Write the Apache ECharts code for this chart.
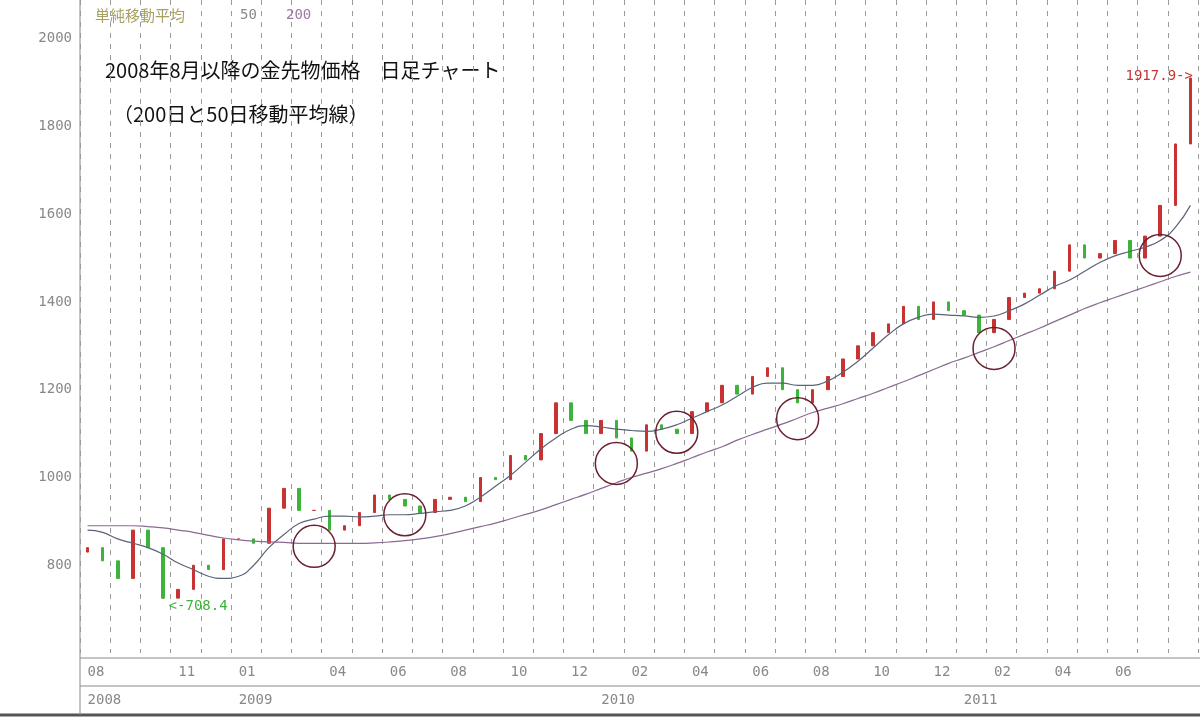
<!DOCTYPE html><html><head><meta charset="utf-8">
<script src="https://cdn.jsdelivr.net/npm/echarts@6/dist/echarts.min.js"></script>
<style>body{margin:0;background:#fff}#c{width:1200px;height:719px}</style></head><body><div id="c"></div>
<script>
// semi-monthly periods, Aug 2008 .. Aug 2011
const months = ['08','09','10','11','12','01','02','03','04','05','06','07','08','09','10','11','12','01','02','03','04','05','06','07','08','09','10','11','12','01','02','03','04','05','06','07','08'];
const years = ['2008','2008','2008','2008','2008','2009','2009','2009','2009','2009','2009','2009','2009','2009','2009','2009','2009','2010','2010','2010','2010','2010','2010','2010','2010','2010','2010','2010','2010','2011','2011','2011','2011','2011','2011','2011','2011'];
const monthLabels = ['08','11','01','04','06','08','10','12','02','04','06','08','10','12','02','04','06'];
const closes = [840,810, 770,880, 840,725, 745,800, 790,860, 860,850, 930,975, 925,925, 880,890, 920,960, 950,935, 920,950, 955,945, 1000,995, 1050,1040, 1100,1170, 1130,1100, 1130,1090, 1060,1120, 1110,1100, 1150,1170, 1210,1190, 1230,1250, 1200,1170, 1200,1230, 1270,1300, 1330,1350, 1390,1360, 1400,1380, 1370,1330, 1360,1410, 1420,1430, 1470,1530, 1500,1510, 1540,1500, 1550,1620, 1760,1910];
const firstOpen = 830;
const ma50 = [880,875, 860,850, 840,825, 805,790, 775,770, 775,800, 840,870, 895,905, 912,912, 910,912, 915,915, 918,922, 925,935, 955,980, 1005,1035, 1065,1090, 1110,1118, 1115,1110, 1107,1105, 1110,1120, 1135,1150, 1165,1185, 1205,1215, 1215,1210, 1210,1220, 1240,1265, 1295,1325, 1350,1365, 1372,1370, 1368,1365, 1368,1380, 1395,1415, 1435,1450, 1470,1490, 1505,1515, 1525,1540, 1570,1620];
const ma200 = [890,890, 890,890, 888,885, 880,875, 868,862, 858,855, 853,852, 850,850, 850,850, 850,851, 853,856, 860,865, 872,880, 888,896, 906,916, 926,938, 950,962, 975,988, 1000,1010, 1020,1032, 1045,1058, 1070,1085, 1098,1110, 1122,1135, 1148,1158, 1168,1180, 1192,1205, 1218,1232, 1246,1260, 1272,1285, 1298,1312, 1326,1340, 1355,1370, 1385,1398, 1410,1422, 1434,1446, 1458,1468];
const circleIdx = [15.4,21.1,35,38.5,47,59.5,70.8];
const circleVal = [843,915,1032,1103,1134,1294,1506];
const yTicks = [800,1000,1200,1400,1600,1800,2000];

const cats = [];
months.forEach((m,i)=>{cats.push(years[i]+'-'+m+'a');cats.push(years[i]+'-'+m+'b');});
const candles = closes.map((c,i)=>{const o=i?closes[i-1]:firstOpen;return [o,c,Math.min(o,c),Math.max(o,c)];});
const labelIdx=[0,6,10,16,20,24,28,32,36,40,44,48,52,56,60,64,68];
const mLab = cats.map((c,i)=>{const k=labelIdx.indexOf(i);return k>=0?monthLabels[k]:'';});
const yLab = cats.map((c,i)=>{ if(i%2) return ''; const k=i/2; if(k===0||years[k]!==years[k-1]) return years[k]; return '';});
const gridCol='#9a9a9a';
const axFont='DejaVu Sans Mono';
const chart = echarts.init(document.getElementById('c'));
chart.setOption({
 animation:false,
 textStyle:{fontFamily:'Noto Sans CJK JP'},
 graphic:[
  {type:'text',left:95,top:8,style:{text:'単純移動平均',fill:'#a8a060',font:'15px "Noto Sans CJK JP"'}},
  {type:'text',left:240,top:8,style:{text:'50',fill:'#8a8a8a',font:'14px "DejaVu Sans Mono"'}},
  {type:'text',left:286,top:8,style:{text:'200',fill:'#9a7aa0',font:'14px "DejaVu Sans Mono"'}},
  {type:'text',left:105,top:60,style:{text:'2008年8月以降の金先物価格　日足チャート',fill:'#111',font:'20px "Noto Sans CJK JP"'}},
  {type:'text',left:113,top:104,style:{text:'（200日と50日移動平均線）',fill:'#111',font:'20px "Noto Sans CJK JP"'}},
  {type:'line',shape:{x1:80,y1:658,x2:1200,y2:658},style:{stroke:'#888',lineWidth:1}},
  {type:'line',shape:{x1:80,y1:686,x2:1200,y2:686},style:{stroke:'#888',lineWidth:1}},
  {type:'line',shape:{x1:0,y1:715,x2:1200,y2:715},style:{stroke:'#555',lineWidth:3}},
  {type:'line',shape:{x1:80,y1:0,x2:80,y2:715},style:{stroke:'#888',lineWidth:1}}
 ],
 grid:{left:80,right:2,top:0,bottom:66,containLabel:false},
 xAxis:[{type:'category',data:cats,boundaryGap:true,
   axisLine:{show:false},axisTick:{show:false},
   axisLabel:{interval:0,formatter:(v,i)=>mLab[i],color:'#888',fontSize:14,align:'left',margin:12,fontFamily:axFont},
   splitLine:{show:true,interval:(i)=>i%2===0,lineStyle:{color:gridCol,type:[5,6]}}},
  {type:'category',data:cats,position:'bottom',offset:28,boundaryGap:true,
   axisLine:{show:false},axisTick:{show:false},
   axisLabel:{interval:0,formatter:(v,i)=>yLab[i],color:'#888',fontSize:14,align:'left',margin:12,fontFamily:axFont}}],
 yAxis:{type:'value',min:600,max:2088,interval:200,
   axisLine:{show:false},axisTick:{show:false},splitLine:{show:false},
   axisLabel:{color:'#888',fontSize:14,fontFamily:axFont,formatter:v=>yTicks.includes(v)?String(v):''}},
 series:[
  {type:'candlestick',data:candles,barWidth:3,
   itemStyle:{color:'#c83232',color0:'#3cb43c',borderColor:'#c83232',borderColor0:'#3cb43c'},
   markPoint:{symbol:'circle',symbolSize:1,data:[
     {coord:[5,725],label:{show:true,formatter:'<-708.4',color:'#3cb43c',position:'right',fontSize:14,offset:[0,8],fontFamily:axFont}},
     {coord:[73,1910],label:{show:true,formatter:'1917.9->',color:'#c83232',position:'left',fontSize:14,offset:[8,-2],fontFamily:axFont}}]}},
  {type:'line',data:ma50,symbol:'none',smooth:true,lineStyle:{color:'#5a6478',width:1.2}},
  {type:'line',data:ma200,symbol:'none',smooth:true,lineStyle:{color:'#8a6a92',width:1.2}},
  {type:'scatter',data:circleIdx.map((x,i)=>[x,circleVal[i]]),symbol:'circle',symbolSize:42,z:5,
   itemStyle:{color:'rgba(0,0,0,0)',borderColor:'#6a2030',borderWidth:1.5,opacity:1}}
 ]
});
</script></body></html>
